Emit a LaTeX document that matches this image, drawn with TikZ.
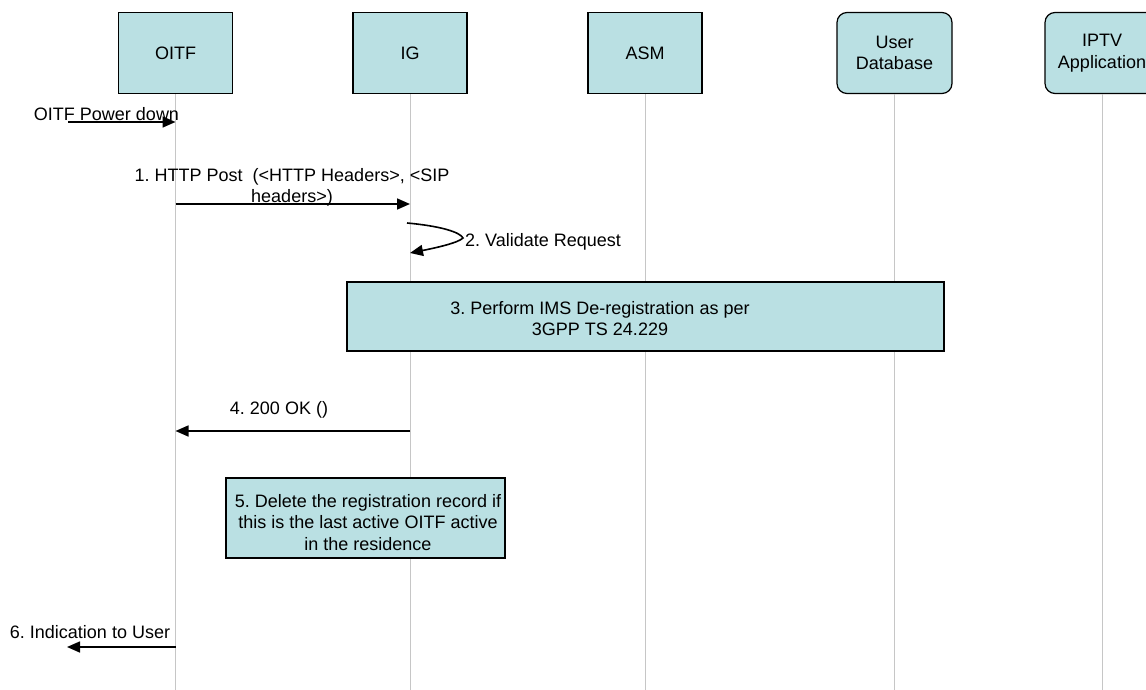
\documentclass[tikz,border=0pt]{standalone}
\usepackage{fontspec}
\setmainfont{Liberation Sans}
\usepackage[svgnames, dvipsnames]{xcolor}
\usetikzlibrary{calc, arrows.meta}
\definecolor{boxfill}{RGB}{186,224,227}
\definecolor{lifegray}{RGB}{198,198,198}
\tikzset{>={Triangle[length=13pt,width=11pt]}}
\tikzset{
  txt/.style={inner sep=0pt, align=center, font=\fontsize{18}{21.5}\selectfont},
  entity/.style={txt, draw=black, line width=1.2pt, fill=boxfill, minimum width=114pt, minimum height=81pt},
  entityround/.style={entity, rounded corners=10pt},
  lifeline/.style={draw=lifegray, line width=1pt},
  msg/.style={->, line width=1.6pt},
  notebox/.style={txt, draw=black, line width=1.2pt, fill=boxfill}
}
\frenchspacing

\begin{document}
\begin{tikzpicture}[x=1pt, y=-1pt]
    \clip (0,0) rectangle (1146,690);
    \fill[white] (0,0) rectangle (1146,690);
    \coordinate (bottom) at (0,690);
    % heads
    \node[entity] (oitf) at (175.5,53) {OITF};
    \node[entity] (ig) at (410,53) {IG};
    \node[entity] (asm) at (645,53) {ASM};
    \node[entityround, minimum width=115pt] (udb) at (894.5,53) {User\\Database};
    \node[entityround] (iptv) at (1102,53) {IPTV\\Application};
    % lifelines
    \draw[lifeline] (oitf.south) -- (oitf.south |- bottom);
    \draw[lifeline] (ig.south) -- (ig.south |- bottom);
    \draw[lifeline] (asm.south) -- (asm.south |- bottom);
    \draw[lifeline] (udb.south) -- (udb.south |- bottom);
    \draw[lifeline] (iptv.south) -- (iptv.south |- bottom);
    % messages
    \coordinate (pwrsrc) at (68,122);
    \draw[msg] (pwrsrc) -- (oitf |- pwrsrc);
    \node[txt] (pwrlbl) at (106.5,114) {OITF Power down};
    \coordinate (m1) at (0,204);
    \draw[msg] (oitf |- m1) -- (ig |- m1);
    \node[txt] (m1lbl) at (292,187.5) {1. HTTP Post\ \ (<HTTP Headers>, <SIP\\headers>)};
    \coordinate (selfa) at (407,223);
    \coordinate (selfb) at (463,238);
    \coordinate (selfc) at (410,253);
    \draw[msg] (selfa) .. controls (440,226) and (460,232) .. (selfb) .. controls (458,243) and (435,248) .. (selfc);
    \node[txt, anchor=west] (m2lbl) at (465,242) {2. Validate Request};
    \node[notebox, minimum width=597pt, minimum height=69pt] (perform) at (645.5,316.5) {};
    \node[txt] (performlbl) at (600,318.5) {3. Perform IMS De-registration as per\\3GPP TS 24.229};
    \coordinate (m4) at (0,431);
    \draw[msg] (ig |- m4) -- (oitf |- m4);
    \node[txt] (m4lbl) at (279,410) {4. 200 OK ()};
    \node[notebox, minimum width=279pt, minimum height=80pt] (delrec) at (365.5,518) {};
    \node[txt] (delreclbl) at (368,522.5) {5. Delete the registration record if\\this is the last active OITF active\\in the residence};
    \coordinate (usr) at (67,647);
    \draw[msg] (oitf |- usr) -- (usr);
    \node[txt] (m6lbl) at (90,632) {6. Indication to User};
\end{tikzpicture}
\end{document}
